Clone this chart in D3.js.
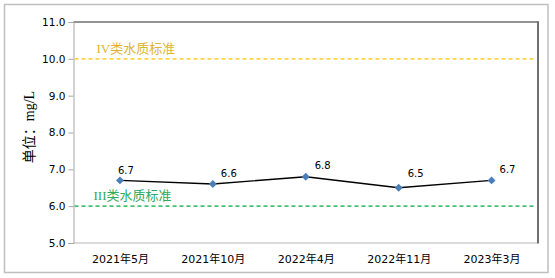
<!DOCTYPE html>
<html><head><meta charset="utf-8">
<script src="https://cdn.jsdelivr.net/npm/d3@7/dist/d3.min.js"></script>
<style>
html,body{margin:0;padding:0;background:#fff;}
svg{display:block;}
</style></head>
<body>
<svg id="chart" width="555" height="278"></svg>
<script>
const categories = ["2021年5月","2021年10月","2022年4月","2022年11月","2023年3月"];
const values = [6.7, 6.6, 6.8, 6.5, 6.7];
const yTicks = [5.0, 6.0, 7.0, 8.0, 9.0, 10.0, 11.0];
const standardValues = [10.0, 6.0];
const standardLabels = ["IV类水质标准", "III类水质标准"];
const yTitle = "单位：mg/L";

const svg = d3.select("#chart");
const W = 555, H = 278;
const m = {left: 73.5, top: 22, right: 538, bottom: 243};

// outer border
svg.append("rect").attr("x", 4.5).attr("y", 4.5).attr("width", 543.5).attr("height", 268)
  .attr("fill", "#fff").attr("stroke", "#bfbfbf").attr("stroke-width", 1.5);

const x = d3.scalePoint().domain(categories).range([m.left, m.right]).padding(0.5);
const y = d3.scaleLinear().domain([5, 11]).range([m.bottom, m.top]);

// plot frame: light left/bottom, dark top/right
svg.append("line").attr("x1", m.left).attr("x2", m.right).attr("y1", m.top).attr("y2", m.top)
  .attr("stroke", "#6f6f6f").attr("stroke-width", 1.5);
svg.append("line").attr("x1", m.right).attr("x2", m.right).attr("y1", m.top - 0.7).attr("y2", m.bottom + 0.5)
  .attr("stroke", "#6f6f6f").attr("stroke-width", 2);
svg.append("line").attr("x1", m.left).attr("x2", m.right - 1).attr("y1", m.bottom).attr("y2", m.bottom)
  .attr("stroke", "#b8b8b8").attr("stroke-width", 1);

// y axis
const yAxis = d3.axisLeft(y).tickValues(yTicks).tickFormat(d3.format(".1f")).tickSize(5).tickPadding(3);
const gy = svg.append("g").attr("transform", `translate(${m.left},0)`).call(yAxis);
gy.select(".domain").attr("stroke", "#a6a6a6");
gy.selectAll(".tick line").attr("stroke", "#a6a6a6");
gy.selectAll(".tick text").attr("font-family", "'DejaVu Sans', Verdana, sans-serif")
  .attr("font-size", 10.5).attr("fill", "#000");

// x axis labels
const xAxis = d3.axisBottom(x).tickSize(0).tickPadding(12);
const gx = svg.append("g").attr("transform", `translate(0,${m.bottom})`).call(xAxis);
gx.select(".domain").remove();
gx.selectAll(".tick text").attr("font-family", "'DejaVu Sans', 'Noto Sans CJK SC', sans-serif")
  .attr("font-size", 11).attr("fill", "#000");

// standard lines
const stdColors = ["#ffd447", "#45c276"];
const stdText = ["#e2b232", "#2ea85a"];
const stdTextY = [-6, -5];
standardValues.forEach((v, i) => {
  svg.append("line").attr("x1", m.left + 1).attr("x2", m.right - 3)
    .attr("y1", y(v)).attr("y2", y(v))
    .attr("stroke", stdColors[i]).attr("stroke-width", 1.6).attr("stroke-dasharray", "4,3");
});
svg.append("text").attr("x", 96.5).attr("y", 53).attr("fill", stdText[0])
  .attr("font-family", "'Liberation Serif', 'Noto Sans CJK SC', serif").attr("font-size", 13)
  .text(standardLabels[0]);
svg.append("text").attr("x", 93.5).attr("y", 200).attr("fill", stdText[1])
  .attr("font-family", "'Liberation Serif', 'Noto Sans CJK SC', serif").attr("font-size", 13)
  .text(standardLabels[1]);

// data line
const line = d3.line().x((d, i) => x(categories[i])).y(d => y(d));
svg.append("path").datum(values).attr("d", line).attr("fill", "none")
  .attr("stroke", "#000").attr("stroke-width", 1.4);

// markers
svg.selectAll(".pt").data(values).enter().append("path")
  .attr("class", "pt")
  .attr("d", d3.symbol().type(d3.symbolDiamond2).size(40))
  .attr("transform", (d, i) => `translate(${x(categories[i])},${y(d)})`)
  .attr("fill", "#4a7ebb");

// data labels
const labelDx = [-2, 8, 9, 9, 8];
const labelDy = [-6, -7, -8, -11, -7];
svg.selectAll(".lbl").data(values).enter().append("text")
  .attr("x", (d, i) => x(categories[i]) + labelDx[i])
  .attr("y", (d, i) => y(d) + labelDy[i])
  .attr("font-family", "'DejaVu Sans', sans-serif").attr("font-size", 10)
  .attr("fill", "#000").text(d => d3.format(".1f")(d));

// y title
svg.append("text").attr("transform", `translate(34,127) rotate(-90)`)
  .attr("text-anchor", "middle")
  .attr("font-family", "'Liberation Serif', 'Noto Sans CJK SC', serif").attr("font-size", 14)
  .attr("fill", "#000").text(yTitle);
</script>
</body></html>
